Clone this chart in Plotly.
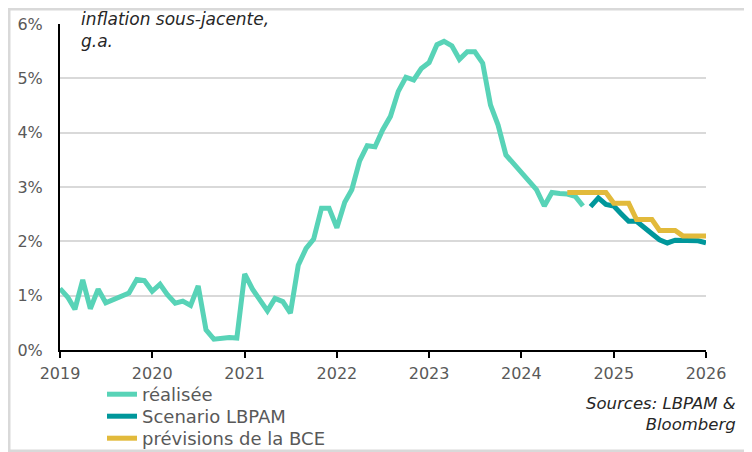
import pandas as pd
import plotly.graph_objects as go

# ---- data ----
realised_dates = pd.date_range("2019-01-01", "2024-09-01", freq="MS")
realised = [
    1.13, 0.97, 0.75, 1.29, 0.76, 1.12, 0.87, 0.93, 1.00, 1.05, 1.30, 1.28,
    1.08, 1.21, 1.02, 0.86, 0.90, 0.82, 1.18, 0.37, 0.20, 0.22, 0.23, 0.22,
    1.40, 1.12, 0.93, 0.72, 0.95, 0.89, 0.68, 1.56, 1.87, 2.04, 2.61, 2.61,
    2.25, 2.72, 2.95, 3.48, 3.76, 3.74, 4.05, 4.30, 4.76, 5.02, 4.97, 5.18,
    5.29, 5.62, 5.68, 5.60, 5.35, 5.49, 5.49, 5.28, 4.51, 4.14, 3.59, 3.43,
    3.28, 3.10, 2.95, 2.65, 2.90, 2.88, 2.87, 2.83, 2.65,
]
lbpam_dates = pd.date_range("2024-10-01", "2026-01-01", freq="MS")
lbpam = [2.64, 2.80, 2.68, 2.65, 2.50, 2.37, 2.37, 2.27, 2.14, 2.03, 1.97,
         2.02, 2.01, 2.02, 2.01, 1.97]
bce_dates = pd.date_range("2024-07-01", "2026-01-01", freq="MS")
bce = [2.9, 2.9, 2.9, 2.9, 2.9, 2.9,
       2.7, 2.7, 2.7, 2.4, 2.4, 2.4, 2.2, 2.2, 2.2, 2.1, 2.1, 2.1,
       2.1]
y_ticks = [0, 1, 2, 3, 4, 5, 6]
y_tick_labels = ["0%", "1%", "2%", "3%", "4%", "5%", "6%"]

FONT = "DejaVu Sans"
C_REAL = "#58D3B7"
C_LBPAM = "#00979B"
C_BCE = "#E2BA3B"

fig = go.Figure()
fig.add_trace(go.Scatter(x=realised_dates, y=realised, mode="lines", name="réalisée",
                         line=dict(color=C_REAL, width=5), legend="legend"))
fig.add_trace(go.Scatter(x=lbpam_dates, y=lbpam, mode="lines", name="Scenario LBPAM",
                         line=dict(color=C_LBPAM, width=5), legend="legend2"))
fig.add_trace(go.Scatter(x=bce_dates, y=bce, mode="lines", name="prévisions de la BCE",
                         line=dict(color=C_BCE, width=5), legend="legend3"))

# page has an 8px body margin: figure sized to fit the window
OFF = 8
W, H = 744, 444
L, R, T, B = 52, 46, 16, 102
pw, ph = W - L - R, H - T - B

def px(xpage):
    return (xpage - OFF - L) / pw

def py(ypage):
    return (H - B - (ypage - OFF)) / ph

def leg(center_y):
    return dict(x=px(102), y=py(center_y - 18), xanchor="left", yanchor="top",
                bgcolor="rgba(0,0,0,0)", font=dict(size=18, color="#595959"),
                itemwidth=30)

fig.update_layout(
    width=W, height=H,
    margin=dict(l=L, r=R, t=T, b=B, autoexpand=False),
    paper_bgcolor="white", plot_bgcolor="white",
    font=dict(family=FONT, size=16, color="#595959"),
    showlegend=True,
    legend=leg(394),
    legend2=leg(416),
    legend3=leg(438),
    xaxis=dict(type="date", range=["2019-01-01", "2026-01-01"],
               dtick="M12", tick0="2019-01-01", tickformat="%Y",
               showgrid=False, showline=True, linecolor="black", linewidth=2,
               ticks="outside", ticklen=6, tickwidth=2, tickcolor="black",
               ticklabelstandoff=2,
               tickfont=dict(size=16, color="#595959"), zeroline=False),
    yaxis=dict(range=[0, 6], tickvals=y_ticks, ticktext=y_tick_labels,
               showgrid=True, gridcolor="#D9D9D9", gridwidth=1.5,
               showline=True, linecolor="black", linewidth=2,
               ticks="", ticklabelstandoff=12,
               tickfont=dict(size=16, color="#595959"), zeroline=False),
    annotations=[
        dict(text="<i>inflation sous-jacente,<br>g.a.</i>", xref="paper", yref="paper",
             x=px(79), y=py(7), xanchor="left", yanchor="top", align="left",
             showarrow=False, font=dict(size=17, color="#262626", family=FONT)),
        dict(text="<i>Sources: LBPAM &<br>Bloomberg</i>", xref="paper", yref="paper",
             x=px(738), y=py(414), xanchor="right", yanchor="middle", align="right",
             showarrow=False, font=dict(size=16.5, color="#262626", family=FONT)),
    ],
    shapes=[
        dict(type="rect", xref="paper", yref="paper",
             x0=px(OFF + 1), x1=px(OFF + W - 1), y0=py(OFF + H - 1), y1=py(OFF + 1),
             line=dict(color="#D9D9D9", width=3), fillcolor="rgba(0,0,0,0)",
             layer="below"),
    ],
)

fig.write_html("out.html")
